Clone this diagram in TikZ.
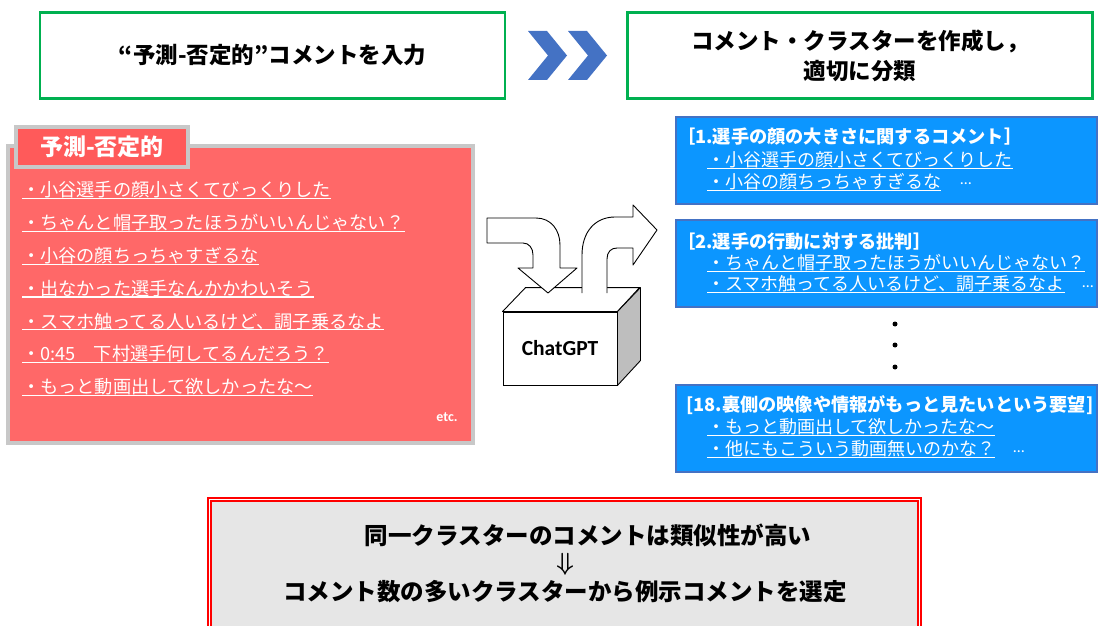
\documentclass[tikz,border=0pt]{standalone}
\usepackage{fontspec}
\usepackage{amsmath}
\usepackage{tikz}
\usetikzlibrary{positioning}

\newfontfamily\jp{Noto Sans CJK JP}
\newfontfamily\lat{Carlito}

\definecolor{stepgreen}{RGB}{0,176,80}
\definecolor{chevblue}{RGB}{68,114,196}
\definecolor{negred}{RGB}{255,104,104}
\definecolor{tabred}{RGB}{255,90,90}
\definecolor{framegray}{RGB}{200,200,200}
\definecolor{clusterblue}{RGB}{12,150,255}
\definecolor{selgray}{RGB}{230,230,230}
\definecolor{sidegray}{RGB}{190,190,190}

\tikzset{
stepbox/.style={draw=stepgreen, line width=2.5pt, minimum width=465pt, minimum height=86pt, align=center, font=\jp\bfseries\fontsize{22.5}{30}\selectfont}, % the two steps on top
negbox/.style={fill=negred, draw=framegray, line width=4pt}, % comment list
negitem/.style={anchor=west, inner sep=0pt, text=white, font=\jp\fontsize{18.2}{20}\selectfont},
cluster/.style={fill=clusterblue, draw=chevblue, line width=2pt, minimum width=421pt, minimum height=87pt}, % one comment cluster
ctitle/.style={anchor=west, inner sep=0pt, text=white, font=\jp\bfseries\fontsize{18.2}{20}\selectfont},
citem/.style={anchor=west, inner sep=0pt, text=white, font=\jp\fontsize{18}{20}\selectfont},
more/.style={inner sep=0pt, text=white, font=\lat\fontsize{16}{16}\selectfont},
uline/.style={draw=white, line width=1.2pt}, % underline of a comment
blockarrow/.style={fill=white, draw=black, line width=0.9pt, line join=round},
selbox/.style={fill=selgray, draw=red, double=white, double distance=1.8pt, line width=1.6pt},
seltext/.style={inner sep=0pt, font=\jp\bfseries\fontsize{23.5}{28}\selectfont},
}

\begin{document}
\begin{tikzpicture}[x=1pt, y=-1pt]
\useasboundingbox (0,0) rectangle (1098,626);

% the two steps and the chevrons between them
\node[stepbox] (input) at (272.5,55.5) {“予測-否定的”コメントを入力};
\node[stepbox] (classify) at (860,55.5) {コメント・クラスターを作成し，\\適切に分類};
\foreach \x in {528,568}
  \fill[chevblue] (\x,31) -- ++(19,0) -- ++(20,24.5) -- ++(-20,24.5) -- ++(-19,0) -- ++(20,-24.5) -- cycle;

% negative comments
\node[negbox, minimum width=465pt, minimum height=297pt] (neg) at (240.5,294.5) {};
\node[negbox, fill=tabred, minimum width=172pt, minimum height=40pt, text=white, font=\jp\bfseries\fontsize{23}{23}\selectfont] (tab) at (102,147) {予測-否定的};
\foreach \t [count=\i] in {{・小谷選手の顔小さくてびっくりした},{・ちゃんと帽子取ったほうがいいんじゃない？},{・小谷の顔ちっちゃすぎるな},{・出なかった選手なんかかわいそう},{・スマホ触ってる人いるけど、調子乗るなよ},{・0:45　下村選手何してるんだろう？},{・もっと動画出して欲しかったな～}}{
  \node[negitem] (n\i) at (22,{157.2+32.8*\i}) {\t};
  \draw[uline] (n\i.south west) -- (n\i.south east);
}
\node[more, font=\lat\bfseries\fontsize{14}{14}\selectfont] (etc) at (447,417) {etc.};

% ChatGPT box
\node[draw, fill=white, line width=0.9pt, minimum width=114pt, minimum height=73pt, font=\lat\bfseries\fontsize{21.5}{22}\selectfont] (gpt) at (560,348.5) {ChatGPT};
\draw[fill=white, line width=0.9pt, line join=round] (gpt.north west) -- ++(23,-24) -- ++(114,0) -- (gpt.north east) -- cycle;
\draw[fill=sidegray, line width=0.9pt, line join=round] (gpt.north east) -- ++(23,-24) -- ++(0,73) -- (gpt.south east) -- cycle;
\draw[blockarrow] (487,218) -- (536,218) .. controls (551,218) and (560,230) .. (560,245) -- (560,268) -- (577,268) -- (548,293) -- (518,268) -- (533,268) -- (533,255) .. controls (533,248) and (529,243) .. (523,243) -- (487,243) -- cycle;
\filldraw[blockarrow] (607,293) -- (607,259) .. controls (607,252) and (611,248) .. (617,248) -- (633,248) -- (633,265) -- (657,230) -- (633,205) -- (633,217) -- (615,217) .. controls (595,217) and (582,232) .. (582,255) -- (582,293);

% comment clusters
\node[cluster] (c1) at (886.5,160.5) {};
\node[ctitle] (c1t) at (677,137) {［1.選手の顔の大きさに関するコメント］};
\node[citem] (c1a) at (707,160) {・小谷選手の顔小さくてびっくりした};
\node[citem] (c1b) at (707,182) {・小谷の顔ちっちゃすぎるな};
\node[more] (c1m) at (966,184) {…};

\node[cluster] (c2) at (886.5,263.5) {};
\node[ctitle] (c2t) at (677,242) {［2.選手の行動に対する批判］};
\node[citem] (c2a) at (707,263) {・ちゃんと帽子取ったほうがいいんじゃない？};
\node[citem] (c2b) at (707,284) {・スマホ触ってる人いるけど、調子乗るなよ};
\node[more] (c2m) at (1088,287) {…};

\foreach \y in {324,345,367}
  \fill (895,\y) circle (2.5pt);

\node[cluster] (c3) at (886.5,428.5) {};
\node[ctitle] (c3t) at (686,405) {[18.裏側の映像や情報がもっと見たいという要望]};
\node[citem] (c3a) at (707,427) {・もっと動画出して欲しかったな～};
\node[citem] (c3b) at (707,449) {・他にもこういう動画無いのかな？};
\node[more] (c3m) at (1019,452) {…};

\foreach \n in {c1a,c1b,c2a,c2b,c3a,c3b}
  \draw[uline] (\n.south west) -- (\n.south east);

% selection of example comments
\node[selbox, minimum width=710pt, minimum height=130pt] (sel) at (564.5,564.5) {};
\node[seltext] (sel1) at (588,535) {同一クラスターのコメントは類似性が高い};
\node[seltext] (selarrow) at (565,564) {$\boldsymbol{\Downarrow}$};
\node[seltext] (sel2) at (565,592) {コメント数の多いクラスターから例示コメントを選定};
\end{tikzpicture}
\end{document}
